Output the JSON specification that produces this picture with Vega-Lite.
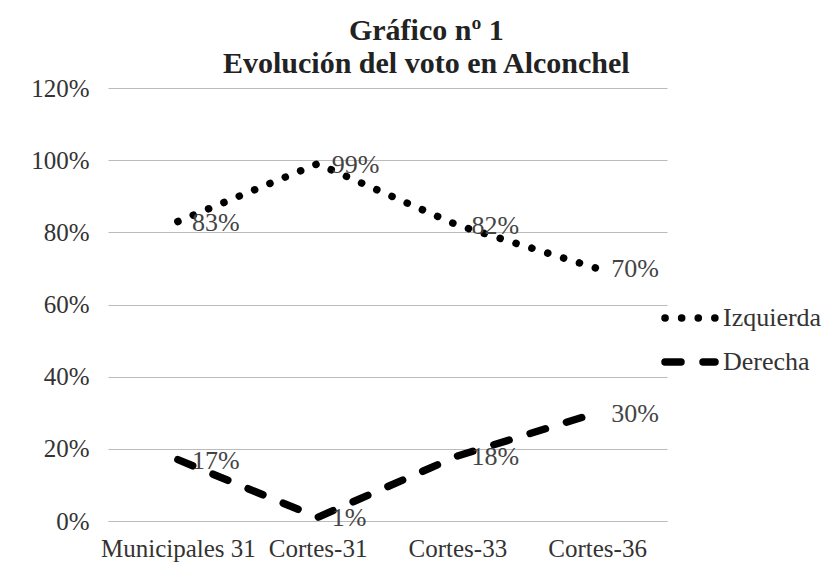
{
  "$schema": "https://vega.github.io/schema/vega-lite/v6.json",
  "autosize": "none",
  "width": 559,
  "height": 433,
  "padding": {"left": 108, "top": 88, "right": 163, "bottom": 55},
  "background": "white",
  "title": {
    "text": ["Gráfico nº 1", "Evolución del voto en Alconchel"],
    "font": "Liberation Serif",
    "fontSize": 30,
    "fontWeight": "bold",
    "color": "#222",
    "anchor": "middle",
    "frame": "bounds",
    "lineHeight": 33,
    "offset": -3
  },
  "config": {
    "view": {"stroke": null},
    "font": "Liberation Serif"
  },
  "data": {
    "values": [
      {"eleccion": "Municipales 31", "orden": 1, "serie": "Izquierda", "voto": 0.83, "etiqueta": "83%"},
      {"eleccion": "Cortes-31", "orden": 2, "serie": "Izquierda", "voto": 0.99, "etiqueta": "99%"},
      {"eleccion": "Cortes-33", "orden": 3, "serie": "Izquierda", "voto": 0.82, "etiqueta": "82%"},
      {"eleccion": "Cortes-36", "orden": 4, "serie": "Izquierda", "voto": 0.70, "etiqueta": "70%"},
      {"eleccion": "Municipales 31", "orden": 1, "serie": "Derecha", "voto": 0.17, "etiqueta": "17%"},
      {"eleccion": "Cortes-31", "orden": 2, "serie": "Derecha", "voto": 0.01, "etiqueta": "1%"},
      {"eleccion": "Cortes-33", "orden": 3, "serie": "Derecha", "voto": 0.18, "etiqueta": "18%"},
      {"eleccion": "Cortes-36", "orden": 4, "serie": "Derecha", "voto": 0.30, "etiqueta": "30%"}
    ]
  },
  "encoding": {
    "x": {
      "field": "eleccion",
      "type": "ordinal",
      "sort": ["Municipales 31", "Cortes-31", "Cortes-33", "Cortes-36"],
      "scale": {"type": "point", "padding": 0.5},
      "axis": {
        "title": null,
        "labelAngle": 0,
        "labelFont": "Liberation Serif",
        "labelFontSize": 25,
        "labelColor": "#333",
        "labelPadding": 15,
        "ticks": false,
        "domainColor": "#bbbbbb",
        "domainWidth": 1.2
      }
    },
    "y": {
      "field": "voto",
      "type": "quantitative",
      "scale": {"domain": [0, 1.2]},
      "axis": {
        "title": null,
        "format": ".0%",
        "values": [0, 0.2, 0.4, 0.6, 0.8, 1.0, 1.2],
        "labelFont": "Liberation Serif",
        "labelFontSize": 25,
        "labelColor": "#333",
        "labelPadding": 19,
        "ticks": false,
        "domain": false,
        "gridColor": "#bbbbbb",
        "gridWidth": 1.2
      }
    }
  },
  "layer": [
    {
      "mark": {"type": "line", "strokeCap": "round", "strokeWidth": 7.5, "color": "black"},
      "encoding": {
        "strokeDash": {
          "field": "serie",
          "type": "nominal",
          "scale": {"domain": ["Izquierda", "Derecha"], "range": [[0.1, 16.5], [16, 22]]},
          "legend": {
            "title": null,
            "orient": "none",
            "legendX": 553,
            "legendY": 201,
            "symbolType": "stroke",
            "symbolSize": 2500,
            "symbolStrokeWidth": 7.5,
            "symbolStrokeColor": "black",
            "labelFont": "Liberation Serif",
            "labelFontSize": 26,
            "labelColor": "#333",
            "labelOffset": 4,
            "rowPadding": -20,
            "encode": {"symbols": {"update": {"strokeCap": {"value": "round"}}}}
          }
        },
        "order": {"field": "orden", "type": "quantitative"}
      }
    },
    {
      "mark": {"type": "text", "align": "left", "baseline": "middle", "dx": 14, "dy": 1, "font": "Liberation Serif", "fontSize": 26, "color": "#444"},
      "encoding": {
        "text": {"field": "etiqueta", "type": "nominal"}
      }
    }
  ]
}
